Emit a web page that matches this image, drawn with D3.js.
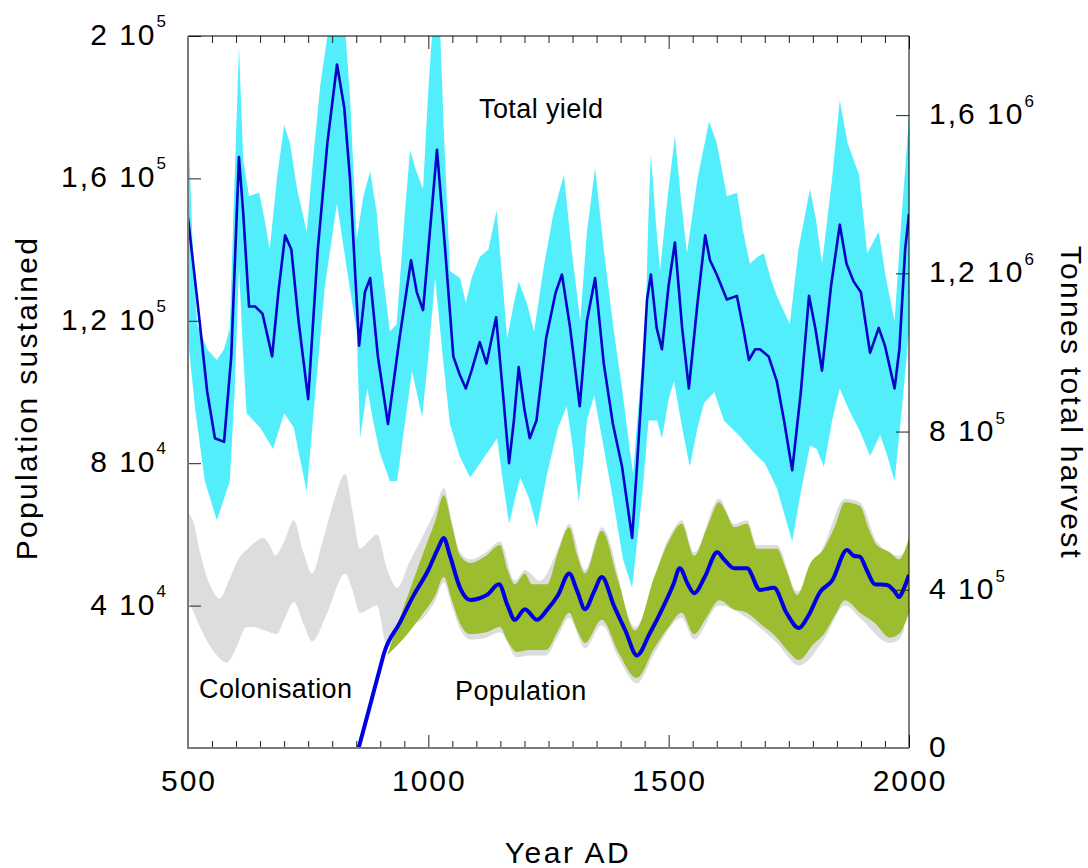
<!DOCTYPE html>
<html>
<head>
<meta charset="utf-8">
<script src="https://cdn.jsdelivr.net/npm/d3@7"></script>
<style>
  body { margin: 0; background: #fff; }
  text { font-family: "Liberation Sans", Arial, sans-serif; fill: #000; }
</style>
</head>
<body>
<div id="chart"></div>
<script>
// values in thousands of people sustained, [year AD, value]
const yieldMid = [[500,149],[520,125],[540,100],[556,87],[575,86],[590,110],[606,166],[615,150],[627,124],[640,124],[655,122],[675,110],[688,128],[702,144],[715,140],[730,120],[750,98],[770,140],[790,170],[810,192],[825,180],[837,160],[856,113],[868,128],[879,132],[895,110],[916,91],[940,115],[964,137],[976,128],[989,123],[1000,140],[1018,168],[1035,140],[1052,110],[1065,105],[1078,101],[1090,106],[1107,114],[1121,108],[1141,121],[1155,100],[1168,80],[1178,92],[1188,107],[1200,95],[1211,87],[1225,92],[1245,115],[1265,128],[1278,133],[1295,118],[1315,96],[1330,120],[1347,132],[1365,108],[1384,91],[1403,79],[1424,59],[1434,79],[1447,107],[1455,126],[1463,133],[1475,118],[1486,112],[1500,130],[1513,142],[1528,118],[1542,101],[1560,125],[1576,144],[1586,137],[1600,133],[1621,126],[1642,127],[1655,118],[1667,109],[1680,112],[1690,112],[1708,110],[1725,103],[1740,92],[1757,78],[1775,100],[1792,127],[1805,118],[1819,106],[1838,130],[1856,147],[1870,136],[1885,131],[1900,128],[1919,111],[1937,118],[1950,113],[1970,101],[1980,112],[1992,140],[2000,150]];

const yieldHigh = [[500,178],[510,140],[519,119],[540,112],[560,109],[575,112],[587,118],[597,160],[606,197],[615,165],[627,155],[648,156],[660,148],[670,140],[685,160],[700,175],[712,170],[727,157],[747,145],[760,165],[775,186],[790,200],[810,206],[828,200],[837,183],[851,143],[865,155],[879,162],[893,150],[899,140],[910,128],[920,117],[934,119],[951,150],[962,168],[975,162],[989,157],[1000,185],[1010,205],[1025,200],[1032,174],[1045,134],[1066,132],[1078,125],[1090,132],[1107,138],[1125,140],[1142,151],[1155,130],[1164,115],[1178,125],[1188,131],[1205,125],[1220,117],[1240,135],[1260,150],[1282,161],[1298,140],[1316,120],[1330,145],[1347,163],[1365,140],[1386,117],[1403,101],[1419,84],[1426,77],[1440,101],[1452,120],[1458,150],[1463,167],[1472,150],[1482,134],[1498,155],[1513,172],[1525,155],[1538,139],[1560,160],[1584,176],[1600,170],[1621,155],[1642,156],[1655,145],[1669,136],[1685,138],[1698,139],[1712,132],[1725,127],[1752,119],[1770,140],[1794,157],[1807,148],[1819,136],[1840,160],[1856,182],[1872,170],[1896,161],[1913,139],[1925,142],[1937,145],[1952,132],[1970,120],[1985,150],[2000,177]];

const yieldLow = [[500,115],[515,95],[535,75],[560,64],[575,70],[587,75],[597,100],[606,135],[615,110],[622,94],[650,90],[677,84],[700,94],[720,90],[747,72],[765,100],[785,130],[810,153],[830,135],[851,117],[858,87],[873,101],[885,92],[899,83],[920,75],[935,75],[950,90],[966,106],[987,93],[1000,110],[1014,132],[1030,110],[1045,91],[1065,82],[1087,76],[1128,84],[1143,87],[1155,75],[1168,63],[1191,76],[1210,70],[1226,62],[1247,77],[1270,90],[1288,96],[1300,85],[1313,69],[1322,80],[1330,92],[1345,99],[1360,88],[1384,70],[1405,53],[1424,45],[1436,60],[1447,74],[1458,92],[1476,92],[1486,87],[1500,98],[1511,103],[1528,90],[1544,79],[1560,90],[1574,97],[1595,100],[1615,92],[1645,88],[1677,83],[1700,80],[1725,73],[1740,66],[1757,58],[1775,72],[1794,85],[1808,84],[1823,79],[1840,92],[1856,101],[1875,95],[1898,89],[1919,82],[1940,88],[1955,82],[1970,75],[1985,95],[2000,117]];

const colonHigh = [[500,66],[510,64],[525,55],[545,46],[566,42],[585,47],[605,53],[629,56.5],[656,59],[670,57],[681,54],[700,58],[720,64],[740,55],[758,49],[780,58],[805,70],[827,77],[843,66],[858,56],[875,58],[893,60],[915,50],[935,45],[960,52],[990,60],[1015,67],[1032,73],[1050,63],[1066,55],[1087,53],[1120,55],[1149,58],[1180,47],[1201,50],[1232,47],[1270,56],[1293,63],[1326,50],[1361,62],[1430,34],[1500,59],[1527,64],[1553,55],[1605,70],[1636,63],[1663,64],[1684,57],[1725,57],[1767,44],[1823,57],[1867,70],[1898,69],[1933,58],[1979,54],[1990,55]];

const colonLow = [[500,42],[515,37],[540,30],[560,26],[581,24],[600,28],[622,34],[635,34],[660,33],[685,32],[700,36],[720,41],[740,35],[758,30],[790,38],[827,49],[843,44],[858,38],[875,39],[893,40],[914,28.5],[935,29.5],[960,34],[990,36.5],[1015,41.5],[1032,46.5],[1050,39.5],[1066,33.5],[1087,30.5],[1120,31],[1149,32.5],[1184,25.5],[1211,26],[1245,26],[1270,31.5],[1293,36.5],[1326,28],[1361,34.5],[1395,25.5],[1434,18.2],[1470,26.5],[1527,36.5],[1553,30.5],[1605,40],[1663,36.5],[1725,29.5],[1771,23.2],[1823,30.5],[1867,40],[1898,36.5],[1960,29.5],[1979,30.5],[1990,33]];

const popHigh = [[914,26],[950,40],[990,55],[1015,64],[1032,71],[1050,62],[1066,54],[1087,52],[1120,54],[1149,57],[1165,50],[1180,46],[1201,49],[1215,46],[1232,46],[1247,46],[1270,55],[1293,62],[1310,54],[1326,49],[1361,61],[1395,47],[1430,33],[1470,48],[1500,58],[1527,63],[1553,54],[1580,62],[1605,69],[1620,66],[1636,62],[1663,63],[1684,56],[1725,56],[1745,50],[1767,43],[1795,52],[1823,56],[1845,62],[1867,69],[1898,68],[1915,62],[1933,57],[1960,55],[1979,53],[2000,59]];

const popLow = [[914,26],[950,31],[990,38],[1015,43],[1032,48],[1050,41],[1066,35],[1087,32],[1120,32.5],[1149,34],[1165,30],[1184,27],[1211,27.5],[1245,27.5],[1270,33],[1293,38],[1310,33],[1326,29.5],[1361,36],[1395,27],[1434,19.7],[1470,28],[1500,34],[1527,38],[1553,32],[1580,37],[1605,41.5],[1635,39],[1663,38],[1690,35],[1725,31],[1750,27],[1771,24.7],[1800,29],[1823,32],[1845,37],[1867,41.5],[1898,38],[1930,35],[1960,31],[1979,32],[2000,38]];

const popMid = [[855,0],[880,12.6],[900,22.7],[908,26.7],[940,35],[970,43],[1000,50],[1020,56],[1032,59],[1045,54],[1066,45],[1087,41.6],[1105,42],[1122,43],[1147,46],[1165,40],[1180,36],[1201,39],[1226,36],[1247,38.8],[1270,43],[1293,49],[1310,44],[1326,39],[1345,44],[1361,48],[1386,40],[1410,33],[1434,26],[1460,32],[1490,40],[1510,46],[1523,50.5],[1540,46],[1553,43.5],[1575,48],[1601,55],[1615,53],[1636,50.5],[1663,50.5],[1690,44.4],[1719,45],[1745,38],[1771,33.7],[1790,37],[1815,43.8],[1840,47],[1871,55.6],[1885,54],[1898,53.7],[1912,50],[1929,46],[1954,45.8],[1970,44],[1979,42.4],[1990,45],[2000,48.6]];

// axis ticks and labels
const xMinorTicks = [550,600,650,700,750,800,850,900,950,1050,1100,1150,1200,1250,1300,1350,1400,1450,1550,1600,1650,1700,1750,1800,1850,1900,1950];
const xMajorTicks = [500,1000,1500,2000];
const xTickLabels = ["500","1000","1500","2000"];
const leftTicks = [40,80,120,160,200];
const leftMantissa = ["4","8","1,2","1,6","2"];
const leftExponent = ["4","4","5","5","5"];
const rightTicks = [0,400000,800000,1200000,1600000];
const rightMantissa = ["0","4","8","1,2","1,6"];
const rightExponent = ["","5","5","6","6"];

const svg = d3.select("#chart").append("svg")
    .attr("width", 1088)
    .attr("height", 868);

const x = d3.scaleLinear().domain([500, 2000]).range([188, 909]);
const yPop = d3.scaleLinear().domain([0, 200]).range([748, 36]);
const yTon = d3.scaleLinear().domain([0, 1800000]).range([748, 36]);

svg.append("defs").append("clipPath").attr("id", "plot")
    .append("rect").attr("x", 188).attr("y", 36).attr("width", 721).attr("height", 712);

const plot = svg.append("g").attr("clip-path", "url(#plot)");

// band built from an upper and a lower edge
function band(upper, lower, curve) {
    const l = d3.line().x(d => x(d[0])).y(d => yPop(d[1])).curve(curve);
    return l(upper) + "L" + l(lower.slice().reverse()).slice(1) + "Z";
}

// total yield uncertainty
plot.append("path")
    .attr("d", band(yieldHigh, yieldLow, d3.curveLinear))
    .attr("fill", "#52eefc");

plot.append("path")
    .datum(yieldMid)
    .attr("d", d3.line().x(d => x(d[0])).y(d => yPop(d[1])))
    .attr("fill", "none")
    .attr("stroke", "#0505c8")
    .attr("stroke-width", 2.6)
    .attr("stroke-linejoin", "round");

// colonisation range (grey) and population range (green)
plot.append("path")
    .attr("d", band(colonHigh, colonLow, d3.curveMonotoneX))
    .attr("fill", "#dcdddd");

plot.append("path")
    .attr("d", band(popHigh, popLow, d3.curveMonotoneX))
    .attr("fill", "#9bbd2f");

plot.append("path")
    .datum(popMid)
    .attr("d", d3.line().x(d => x(d[0])).y(d => yPop(d[1])).curve(d3.curveMonotoneX))
    .attr("fill", "none")
    .attr("stroke", "#0000e6")
    .attr("stroke-width", 4)
    .attr("stroke-linejoin", "round");

// ticks (pointing inward)
function ticks(g) {
    g.select(".domain").remove();
    g.selectAll("line").attr("stroke", "#222");
}
svg.append("g").attr("transform", "translate(0,748)")
    .call(d3.axisBottom(x).tickValues(xMinorTicks).tickSize(-7).tickFormat("")).call(ticks);
svg.append("g").attr("transform", "translate(0,748)")
    .call(d3.axisBottom(x).tickValues(xMajorTicks).tickSize(-13).tickFormat("")).call(ticks);
svg.append("g").attr("transform", "translate(0,36)")
    .call(d3.axisTop(x).tickValues(xMinorTicks).tickSize(-7).tickFormat("")).call(ticks);
svg.append("g").attr("transform", "translate(0,36)")
    .call(d3.axisTop(x).tickValues(xMajorTicks).tickSize(-13).tickFormat("")).call(ticks);
svg.append("g").attr("transform", "translate(188,0)")
    .call(d3.axisLeft(yPop).tickValues(leftTicks).tickSize(-13).tickFormat("")).call(ticks);
svg.append("g").attr("transform", "translate(909,0)")
    .call(d3.axisRight(yTon).tickValues(rightTicks).tickSize(-13).tickFormat("")).call(ticks);

// frame
svg.append("line").attr("x1", 188).attr("x2", 909).attr("y1", 36).attr("y2", 36).attr("stroke", "#000");
svg.append("line").attr("x1", 909).attr("x2", 909).attr("y1", 36).attr("y2", 748).attr("stroke", "#000");
svg.append("line").attr("x1", 188).attr("x2", 188).attr("y1", 36).attr("y2", 749).attr("stroke", "#7a7a7a").attr("stroke-width", 2);
svg.append("line").attr("x1", 187).attr("x2", 909).attr("y1", 748).attr("y2", 748).attr("stroke", "#7a7a7a").attr("stroke-width", 2);

// tick labels
svg.selectAll(".xlab").data(xMajorTicks).enter().append("text")
    .attr("x", d => x(d) + 1)
    .attr("y", 791)
    .attr("text-anchor", "middle")
    .style("font-size", "30px")
    .style("letter-spacing", "2px")
    .text((d, i) => xTickLabels[i]);

const leftLab = svg.selectAll(".ylab").data(leftTicks).enter().append("text")
    .attr("x", 166)
    .attr("y", d => yPop(d) + 9)
    .attr("text-anchor", "end")
    .style("font-size", "30px")
    .style("letter-spacing", "2px");
leftLab.append("tspan").text((d, i) => leftMantissa[i] + " 10");
leftLab.append("tspan").attr("dy", -18).style("font-size", "17px").style("letter-spacing", "0px")
    .text((d, i) => leftExponent[i]);

const rightLab = svg.selectAll(".rlab").data(rightTicks).enter().append("text")
    .attr("x", 929)
    .attr("y", d => yTon(d) + 9)
    .style("font-size", "30px")
    .style("letter-spacing", "2px");
rightLab.append("tspan").text((d, i) => i === 0 ? rightMantissa[i] : rightMantissa[i] + " 10");
rightLab.append("tspan").attr("dy", -17).style("font-size", "17px").style("letter-spacing", "0px")
    .text((d, i) => rightExponent[i]);

// axis titles
svg.append("text")
    .attr("transform", "translate(37,398) rotate(-90)")
    .attr("text-anchor", "middle")
    .style("font-size", "30px")
    .style("letter-spacing", "2.3px")
    .text("Population sustained");

svg.append("text")
    .attr("transform", "translate(1061,403) rotate(90)")
    .attr("text-anchor", "middle")
    .style("font-size", "30px")
    .style("letter-spacing", "2.3px")
    .text("Tonnes total harvest");

svg.append("text")
    .attr("x", 568)
    .attr("y", 863)
    .attr("text-anchor", "middle")
    .style("font-size", "30px")
    .style("letter-spacing", "2.5px")
    .text("Year AD");

// annotations
svg.append("text").attr("x", 479).attr("y", 118).style("font-size", "27px").style("letter-spacing", "0.4px").text("Total yield");
svg.append("text").attr("x", 199).attr("y", 698).style("font-size", "27px").style("letter-spacing", "0.4px").text("Colonisation");
svg.append("text").attr("x", 455).attr("y", 700).style("font-size", "27px").style("letter-spacing", "0.4px").text("Population");
</script>
</body>
</html>
